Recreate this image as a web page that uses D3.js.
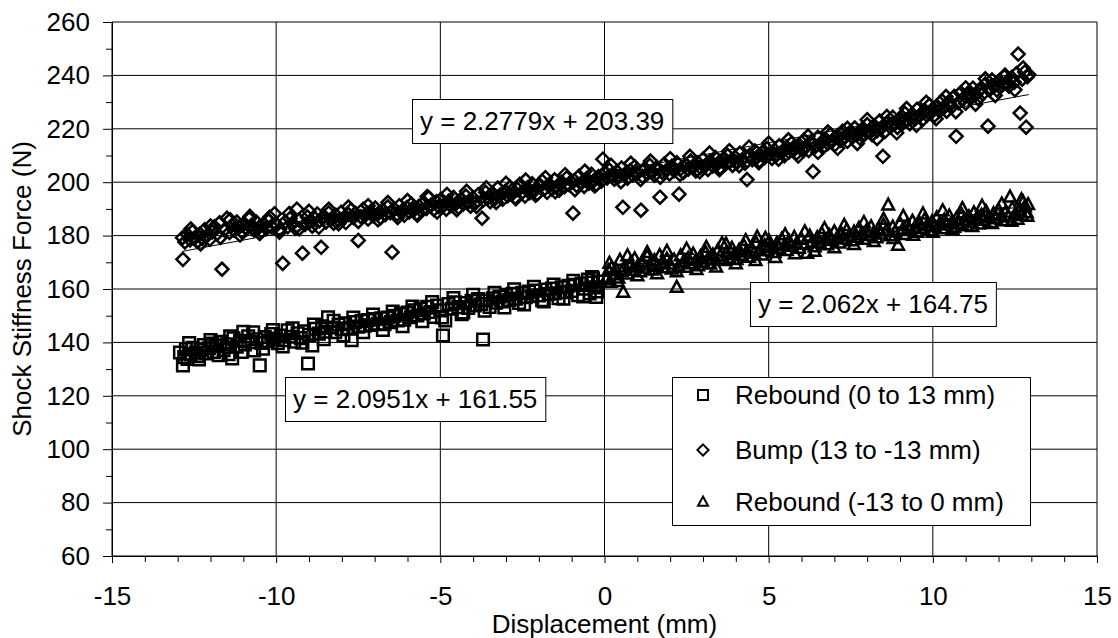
<!DOCTYPE html>
<html>
<head>
<meta charset="utf-8">
<script src="https://cdn.jsdelivr.net/npm/d3@7"></script>
<style>
  body { margin: 0; background: #fff; }
  svg text { font-family: "Liberation Sans", Arial, sans-serif; fill: #000; }
</style>
</head>
<body>
<svg id="chart" width="1118" height="638"></svg>
<script>
// ticks / labels
var xTicks = [-15, -10, -5, 0, 5, 10, 15];
var yTicks = [60, 80, 100, 120, 140, 160, 180, 200, 220, 240, 260];
var xTitle = "Displacement (mm)";
var yTitle = "Shock Stiffness Force (N)";
var seriesNames = ["Rebound (0 to 13 mm)", "Bump (13 to -13 mm)", "Rebound (-13 to 0 mm)"];

// trendline coefficients [slope, intercept] as printed on the chart
var trendRebound1 = [2.0951, 161.55];
var trendBump = [2.2779, 203.39];
var trendRebound2 = [2.062, 164.75];
var trendLabels = ["y = 2.0951x + 161.55", "y = 2.2779x + 203.39", "y = 2.062x + 164.75"];

// Rebound (0 to 13 mm) - squares
var rebound1 = [[-12.93,136.2],[-12.84,131.4],[-12.8,134.5],[-12.75,137.5],[-12.7,133.8],[-12.6,135.5],[-12.55,138],[-12.45,136.2],[-12.4,134.8],[-12.3,137.3],[-12.2,139],[-12.15,135.9],[-12.05,137.8],[-11.95,139.6],[-11.9,136.4],[-11.8,138.7],[-11.7,140.2],[-11.6,137.1],[-11.5,139.3],[-11.45,135.6],[-11.34,134],[-11.3,141.5],[-11.2,138.4],[-11.1,140.6],[-11.0,144],[-10.95,139.2],[-10.85,142.3],[-10.75,140.1],[-10.67,137],[-10.6,141.2],[-10.5,131.4],[-10.45,139.8],[-10.35,142],[-10.25,140.5],[-10.15,143.1],[-10.05,141.4],[-9.95,139.7],[-9.85,142.6],[-9.75,140.8],[-9.65,144.5],[-9.55,142.1],[-9.45,140.3],[-9.35,143.4],[-9.25,141.6],[-9.15,144.2],[-9.03,132.1],[-9.0,142.8],[-8.9,138.9],[-8.8,145.1],[-8.7,143.3],[-8.6,146],[-8.5,144],[-8.42,149.4],[-8.3,145.6],[-8.2,143.8],[-8.1,146.7],[-8.0,144.9],[-7.9,147.2],[-7.8,145.3],[-7.7,140.8],[-7.6,147.6],[-7.5,145.9],[-7.4,148.1],[-7.3,146.3],[-7.2,148.4],[-7.1,146.5],[-7.0,148.7],[-6.9,147],[-6.8,149],[-6.7,146.8],[-6.6,149.3],[-6.5,147.6],[-6.4,150],[-6.3,148.2],[-6.2,150.6],[-6.1,148.5],[-6.0,151.2],[-5.9,149.4],[-5.8,152],[-5.7,150.1],[-5.6,152.6],[-5.5,150.8],[-5.4,153.3],[-5.3,151.4],[-5.2,149.5],[-5.1,153.8],[-5.0,152],[-4.92,142.6],[-4.85,148.2],[-4.75,154.4],[-4.65,152.6],[-4.55,155],[-4.45,153.2],[-4.35,150.6],[-4.25,154.7],[-4.15,152.9],[-4.05,155.6],[-3.95,153.8],[-3.85,156.2],[-3.75,154.4],[-3.7,141.1],[-3.6,155.7],[-3.5,153.3],[-3.4,156.5],[-3.3,154.9],[-3.2,157.1],[-3.1,155.3],[-3.0,157.8],[-2.9,155.9],[-2.8,158.2],[-2.7,156.4],[-2.6,154.8],[-2.5,158.6],[-2.4,156.9],[-2.3,159],[-2.2,157.3],[-2.1,159.4],[-2.0,157.6],[-1.9,155.8],[-1.8,159.8],[-1.7,158.1],[-1.6,160.2],[-1.5,158.4],[-1.4,156.6],[-1.3,160.6],[-1.2,158.8],[-1.1,161.2],[-1.0,159.3],[-0.9,161.6],[-0.8,157.7],[-0.7,162],[-0.6,160.1],[-0.5,163.5],[-0.45,158.3],[-0.4,162.4],[-0.35,164],[-0.3,160.6],[-0.25,157],[-0.2,162.8],
  [-12.65,139.8],[-12.35,133.6],[-12.0,140.9],[-11.75,135.2],[-11.4,142.3],[-11.05,136.4],[-10.7,143.8],[-10.4,137.6],[-10.1,144.6],[-9.8,138.5],[-9.5,145.3],[-9.2,139.9],[-8.85,146.7],[-8.55,141.2],[-8.25,148.1],[-7.95,142.6],[-7.65,149.3],[-7.35,143.8],[-7.05,150.4],[-6.75,144.7],[-6.45,151.6],[-6.15,146.1],[-5.85,153.4],[-5.55,147.9],[-5.25,155.1],[-4.95,149.3],[-4.6,156.6],[-4.3,151.2],[-4.0,157.8],[-3.65,151.9],[-3.35,158.6],[-3.05,153.1],[-2.75,159.9],[-2.45,154.2],[-2.15,160.8],[-1.85,155.3],[-1.55,161.7],[-1.25,156.4],[-0.95,163.1],[-0.65,157.2],[-0.38,164.5],[-0.22,159.1]];

// Bump (13 to -13 mm) - diamonds
var bump = [[-12.85,179.2],[-12.84,171.1],[-12.78,177.6],[-12.7,180.3],[-12.62,178.4],[-12.55,181.5],[-12.48,179.1],[-12.4,177.8],[-12.32,180.6],[-12.25,178.9],[-12.18,182.2],[-12.1,180],[-12.02,178.6],[-11.95,181.4],[-11.88,183.3],[-11.8,180.7],[-11.72,184.8],[-11.65,167.4],[-11.58,182.1],[-11.5,186.5],[-11.42,181.2],[-11.35,183.8],[-11.28,182],[-11.2,185.1],[-11.12,183.2],[-11.05,181.5],[-10.98,184.4],[-10.9,182.6],[-10.82,186.3],[-10.75,183.9],[-10.68,182.1],[-10.6,185],[-10.52,183.1],[-10.45,181.6],[-10.38,184.3],[-10.3,182.7],[-10.22,185.6],[-10.15,183.4],[-10.05,188.2],[-9.98,184.1],[-9.9,182.3],[-9.8,169.6],[-9.72,185.2],[-9.65,183.3],[-9.58,186.4],[-9.5,184.5],[-9.42,182.8],[-9.37,189.9],[-9.3,185.8],[-9.2,173.4],[-9.12,184.2],[-9.05,187],[-8.98,185.2],[-8.9,183.5],[-8.82,186.4],[-8.75,188.1],[-8.68,185.6],[-8.63,175.6],[-8.55,187.3],[-8.48,185.1],[-8.4,188.5],[-8.32,186.2],[-8.25,184.6],[-8.18,187.6],[-8.1,185.8],[-8.02,188.7],[-7.95,186.5],[-7.88,184.9],[-7.8,187.9],[-7.72,189.6],[-7.65,186.8],[-7.58,188.3],[-7.5,178.2],[-7.42,187.1],[-7.35,189.9],[-7.28,187.7],[-7.2,186.2],[-7.12,189],[-7.05,187.4],[-6.98,190.3],[-6.9,188.2],[-6.82,186.7],[-6.75,189.5],[-6.68,187.8],[-6.6,190.8],[-6.52,188.6],[-6.47,173.8],[-6.4,189.9],[-6.32,188],[-6.25,191.2],[-6.18,189.1],[-6.1,187.6],[-6.02,190.5],[-5.95,188.8],[-5.88,191.8],[-5.8,189.6],[-5.72,188.2],[-5.65,191],[-5.58,189.3],[-5.5,192.3],[-5.42,190.2],[-5.35,194.2],[-5.28,191.5],[-5.2,189.8],[-5.12,192.7],[-5.05,190.9],[-4.98,193.6],[-4.9,191.3],[-4.82,189.9],[-4.75,192.9],[-4.68,191.2],[-4.6,194.3],[-4.52,192],[-4.45,190.6],[-4.38,193.5],[-4.3,191.8],[-4.22,194.8],[-4.15,192.6],[-4.08,191],[-4.0,194],[-3.92,192.4],[-3.85,195.3],[-3.73,186.5],[-3.7,193.2],[-3.62,196.2],[-3.55,194.3],[-3.48,192.7],[-3.4,195.7],[-3.32,194],[-3.25,197.8],[-3.18,195.2],[-3.1,193.6],[-3.02,196.6],[-2.95,194.9],[-2.88,198],[-2.8,195.8],[-2.72,194.3],[-2.65,197.3],[-2.58,199.2],[-2.5,196.3],[-2.42,194.8],[-2.35,197.9],[-2.28,196.1],[-2.2,199.4],[-2.12,197],[-2.05,195.6],[-1.98,198.6],[-1.9,200.4],[-1.82,197.6],[-1.75,196.2],[-1.68,199.2],[-1.6,197.5],[-1.52,200.9],[-1.45,198.4],[-1.38,197],[-1.3,200],[-1.22,198.3],[-1.15,201.6],[-1.08,199.1],[-0.96,188.4],[-0.92,200.6],[-0.85,198.8],[-0.78,202.2],[-0.7,199.8],[-0.62,198.4],[-0.55,201.3],[-0.48,199.6],[-0.4,203],[-0.32,200.6],[-0.25,199.1],[-0.18,202.1],[-0.1,200.4],[-0.05,208.6],[0.0,203.5],[0.08,201.6],[0.15,204.5],[0.22,202.7],[0.3,201.1],[0.38,204],[0.45,202.2],[0.52,205.3],[0.56,190.6],[0.62,203],[0.7,201.5],[0.78,204.4],[0.85,202.7],[0.92,205.8],[1.0,203.4],[1.11,189.5],[1.15,202.2],[1.22,205],[1.3,203.2],[1.38,206.3],[1.45,204],[1.52,202.6],[1.6,205.5],[1.69,194.4],[1.75,203.8],[1.82,206.8],[1.9,204.6],[1.98,203.1],[2.05,206],[2.12,204.3],[2.2,207.3],[2.27,195.5],[2.32,205],[2.4,203.6],[2.48,206.6],[2.55,204.9],[2.62,207.9],[2.7,205.6],[2.78,204.2],[2.85,207.2],[2.92,205.5],[3.0,208.6],[3.08,206.3],[3.15,204.8],[3.22,207.8],[3.3,206.1],[3.38,209.2],[3.45,207],[3.52,205.5],[3.6,208.5],[3.68,206.8],[3.75,210],[3.82,207.7],[3.9,206.3],[3.98,209.3],[4.05,207.6],[4.12,210.8],[4.2,208.5],[4.28,207.1],[4.34,201],[4.42,210.1],[4.5,208.4],[4.58,211.7],[4.65,209.4],[4.72,208],[4.8,211.1],[4.88,209.3],[4.95,212.6],[5.02,210.3],[5.1,208.9],[5.18,212],[5.25,210.3],[5.32,213.6],[5.4,211.3],[5.48,209.9],[5.55,213],[5.62,211.3],[5.7,214.6],[5.78,212.3],[5.85,210.9],[5.92,214],[6.0,212.3],[6.08,215.7],[6.15,213.4],[6.22,211.9],[6.3,215.1],[6.35,204],[6.42,213.4],[6.5,216.8],[6.58,214.5],[6.65,213],[6.72,216.2],[6.8,214.5],[6.88,217.9],[6.95,215.6],[7.02,214.1],[7.1,217.4],[7.18,215.6],[7.25,219.1],[7.32,216.8],[7.4,215.3],[7.48,218.6],[7.55,216.8],[7.62,220.3],[7.7,218],[7.78,216.5],[7.85,219.8],[7.92,218],[8.0,221.6],[8.08,219.2],[8.15,217.8],[8.22,221.1],[8.3,219.3],[8.38,222.9],[8.45,220.6],[8.48,209.7],[8.55,219.1],[8.62,222.5],[8.7,220.7],[8.78,224.3],[8.85,222],[8.92,220.5],[9.0,223.9],[9.08,222.1],[9.15,225.8],[9.22,223.4],[9.3,221.9],[9.38,225.4],[9.45,223.6],[9.52,227.3],[9.6,225],[9.68,223.4],[9.75,226.9],[9.82,225.1],[9.9,228.9],[9.98,226.5],[10.05,225],[10.12,228.5],[10.2,226.7],[10.28,230.5],[10.35,228.1],[10.42,226.6],[10.5,230.1],[10.58,228.3],[10.65,232.1],[10.71,217.2],[10.78,229.8],[10.85,233.5],[10.92,231.2],[11.0,229.6],[11.08,233.2],[11.15,231.4],[11.22,235.2],[11.3,232.8],[11.38,231.3],[11.45,234.9],[11.52,233.1],[11.6,236.8],[11.68,221],[11.72,234.5],[11.8,238.3],[11.88,236],[11.95,234.5],[12.02,238],[12.1,236.2],[12.18,239.5],[12.25,237.5],[12.32,235.9],[12.4,239.2],[12.48,237.4],[12.55,240.7],[12.6,248],[12.66,225.9],[12.72,238.6],[12.8,241.3],[12.84,220.6],[12.88,239.5],[12.92,240.3],
  [-12.6,182.5],[-12.3,176.9],[-12.0,183.6],[-11.7,179.3],[-11.4,185.9],[-11.1,180.2],[-10.8,187.2],[-10.5,180.8],[-10.2,186.9],[-9.9,181.3],[-9.6,188.3],[-9.3,182.6],[-9.0,189.1],[-8.7,183.1],[-8.4,189.9],[-8.1,184.4],[-7.8,190.7],[-7.5,185.3],[-7.2,191.2],[-6.9,185.9],[-6.6,192.4],[-6.3,186.8],[-6.0,193.1],[-5.7,187.6],[-5.4,194.6],[-5.1,188.8],[-4.8,195.4],[-4.5,189.7],[-4.2,196.6],[-3.9,190.9],[-3.6,197.9],[-3.3,192.4],[-3.0,199.6],[-2.7,193.8],[-2.4,200.8],[-2.1,195.1],[-1.8,201.7],[-1.5,196.4],[-1.2,202.8],[-0.9,197.2],[-0.6,204.1],[-0.3,198.6],[0.2,206.3],[0.5,200.2],[0.8,207.1],[1.1,201],[1.4,207.9],[1.7,201.9],[2.0,208.8],[2.3,202.9],[2.6,209.7],[2.9,203.9],[3.2,210.9],[3.5,204.7],[3.8,211.8],[4.1,206.2],[4.4,213.1],[4.7,207.3],[5.0,214.6],[5.3,208.6],[5.6,215.9],[5.9,209.8],[6.2,217.3],[6.5,211.2],[6.8,218.8],[7.1,212.7],[7.4,220.2],[7.7,214.5],[8.0,223.4],[8.3,216.4],[8.6,224.6],[8.9,218.5],[9.2,227.6],[9.5,221.3],[9.8,229.9],[10.1,223.8],[10.4,232.1],[10.7,226.4],[11.0,235.3],[11.3,229.2],[11.6,238.7],[11.9,232.5],[12.2,240.1],[12.5,234.6],[12.75,242.8]];

// Rebound (-13 to 0 mm) - triangles
var rebound2 = [[0.05,163.5],[0.08,164.4],[0.12,166.8],[0.18,162.5],[0.22,168],[0.28,165.3],[0.35,167.2],[0.42,164.1],[0.47,170.7],[0.52,166.5],[0.57,158.8],[0.62,168.3],[0.7,165.6],[0.78,169.4],[0.85,167],[0.92,171.3],[1.0,168.2],[1.08,166.4],[1.15,170.1],[1.22,167.8],[1.3,172.2],[1.38,169],[1.45,167.1],[1.52,170.6],[1.6,168.5],[1.68,172.5],[1.75,169.7],[1.82,167.9],[1.9,171.2],[1.98,169.3],[2.05,167.5],[2.12,170.8],[2.2,160.6],[2.25,168.4],[2.32,172.4],[2.4,170],[2.48,168.1],[2.55,171.5],[2.62,169.4],[2.7,173.1],[2.78,170.6],[2.85,168.7],[2.92,172],[3.0,170],[3.08,173.6],[3.15,171.2],[3.22,169.3],[3.3,172.7],[3.38,170.8],[3.45,174.4],[3.52,172.3],[3.58,177],[3.65,170.6],[3.72,173.6],[3.8,171.5],[3.88,175.2],[3.95,172.9],[4.02,171],[4.1,174.5],[4.18,172.6],[4.25,176.1],[4.32,173.8],[4.4,171.9],[4.48,175.3],[4.55,173.4],[4.62,177.2],[4.65,179.4],[4.72,174.5],[4.8,172.7],[4.88,176.2],[4.95,174.3],[5.02,177.8],[5.1,175.4],[5.18,173.6],[5.25,177],[5.32,175.1],[5.4,178.6],[5.48,176.2],[5.55,174.4],[5.62,177.9],[5.7,176],[5.78,179.3],[5.85,177],[5.92,175.2],[6.0,178.6],[6.08,176.7],[6.17,173.4],[6.25,179.8],[6.32,177.5],[6.4,175.8],[6.48,179.2],[6.55,177.3],[6.62,180.7],[6.7,178.3],[6.78,176.5],[6.85,180],[6.92,178.1],[7.0,181.4],[7.08,179.1],[7.15,177.2],[7.22,180.6],[7.3,178.7],[7.38,182.1],[7.45,179.8],[7.52,178],[7.6,181.3],[7.68,179.4],[7.75,182.7],[7.82,180.4],[7.9,178.6],[7.98,181.9],[8.05,180],[8.12,183.3],[8.2,181],[8.28,179.2],[8.35,182.5],[8.42,180.6],[8.5,183.9],[8.58,181.7],[8.64,191.4],[8.7,179.9],[8.78,183.2],[8.85,181.3],[8.94,176.4],[9.0,184.5],[9.08,182.2],[9.15,180.4],[9.22,183.8],[9.3,181.9],[9.38,185.3],[9.45,183],[9.52,181.2],[9.6,184.5],[9.68,182.6],[9.75,186],[9.82,183.7],[9.9,181.9],[9.98,185.2],[10.05,183.3],[10.12,186.6],[10.2,184.3],[10.28,182.5],[10.35,185.8],[10.42,183.9],[10.5,187.3],[10.58,185],[10.65,183.1],[10.72,186.4],[10.8,184.5],[10.88,187.8],[10.95,185.5],[11.02,183.7],[11.1,187],[11.18,185.1],[11.25,188.5],[11.32,186.1],[11.4,184.3],[11.48,187.6],[11.55,185.7],[11.62,189],[11.7,186.7],[11.78,184.9],[11.85,188.2],[11.92,186.3],[12.0,189.6],[12.08,187.3],[12.15,185.5],[12.22,188.8],[12.3,186.9],[12.35,194.4],[12.42,190.2],[12.5,187.9],[12.58,186.1],[12.65,189.4],[12.72,187.5],[12.75,192.5],[12.8,190.8],[12.86,188.5],[12.9,191.6],
  [0.15,169.6],[0.4,162.8],[0.7,172.4],[1.0,164.9],[1.3,173.6],[1.6,165.7],[1.9,174.1],[2.2,166.4],[2.5,174.9],[2.8,167.3],[3.1,175.6],[3.4,168.2],[3.7,176.8],[4.0,169.4],[4.3,178.1],[4.6,170.6],[4.9,179],[5.2,171.8],[5.5,180.3],[5.8,173.2],[6.1,181.4],[6.4,174.1],[6.7,182.6],[7.0,175.4],[7.3,183.8],[7.6,176.6],[7.9,184.9],[8.2,177.8],[8.5,186.1],[8.8,178.9],[9.1,187.2],[9.4,180.1],[9.7,188.1],[10.0,181.2],[10.3,189.3],[10.6,182.3],[10.9,190.1],[11.2,183.4],[11.5,191],[11.8,184.5],[12.1,191.8],[12.4,185.3],[12.7,193.4],[12.88,187.2]];

(function() {
  var svg = d3.select("#chart");
  var plotLeft = 112, plotRight = 1097, plotTop = 22, plotBottom = 556;
  var x = d3.scaleLinear().domain([-15, 15]).range([plotLeft, plotRight]);
  var y = d3.scaleLinear().domain([60, 260]).range([plotBottom, plotTop]);

  var FONT = 26;
  var plain = function(d) { return String(d); }; // hyphen-minus like the original

  // marker shapes
  var shapes = {
    square: function(s) { return "M" + (-s) + "," + (-s) + "H" + s + "V" + s + "H" + (-s) + "Z"; },
    diamond: function(s) { return "M0," + (-s) + "L" + s + ",0L0," + s + "L" + (-s) + ",0Z"; },
    triangle: function(s) { return "M0," + (-s * 1.1) + "L" + s + "," + (s * 0.75) + "L" + (-s) + "," + (s * 0.75) + "Z"; }
  };

  // grid
  var grid = svg.append("g").attr("class", "grid");
  grid.selectAll(".hg").data(yTicks).enter().append("line")
    .attr("x1", plotLeft).attr("x2", plotRight)
    .attr("y1", function(d) { return y(d); }).attr("y2", function(d) { return y(d); })
    .attr("stroke", "#000").attr("stroke-width", 1);
  grid.selectAll(".vg").data(xTicks).enter().append("line")
    .attr("y1", plotTop).attr("y2", plotBottom)
    .attr("x1", function(d) { return x(d); }).attr("x2", function(d) { return x(d); })
    .attr("stroke", "#000").attr("stroke-width", 1);

  // axes - major ticks with labels, minor ticks without
  var yMinor = d3.range(70, 260, 20);
  var xMinor = d3.range(-15, 16, 1).filter(function(d) { return d % 5 !== 0; });

  svg.append("g").attr("transform", "translate(" + plotLeft + ",0)")
    .call(d3.axisLeft(y).tickValues(yTicks).tickFormat(plain).tickSize(9).tickPadding(13));
  svg.append("g").attr("transform", "translate(" + plotLeft + ",0)")
    .call(d3.axisLeft(y).tickValues(yMinor).tickSize(6).tickFormat(""))
    .select(".domain").remove();
  svg.append("g").attr("transform", "translate(0," + plotBottom + ")")
    .call(d3.axisBottom(x).tickValues(xTicks).tickFormat(plain).tickSize(7).tickPadding(24));
  svg.append("g").attr("transform", "translate(0," + plotBottom + ")")
    .call(d3.axisBottom(x).tickValues(xMinor).tickSize(6).tickFormat(""))
    .select(".domain").remove();

  svg.selectAll(".tick text").style("font-size", FONT + "px")
    .style("font-family", "'Liberation Sans', Arial, sans-serif").attr("fill", "#000");
  svg.selectAll(".domain").attr("stroke", "#000");
  svg.selectAll(".tick line").attr("stroke", "#000");

  // axis titles
  svg.append("text").attr("x", (plotLeft + plotRight) / 2).attr("y", 633)
    .attr("text-anchor", "middle").style("font-size", FONT + "px").text(xTitle);
  svg.append("text").attr("transform", "translate(31," + ((plotTop + plotBottom) / 2) + ") rotate(-90)")
    .attr("text-anchor", "middle").style("font-size", FONT + "px").text(yTitle);

  // data series
  var series = [
    { data: rebound1, shape: "square", size: 5.8 },
    { data: bump, shape: "diamond", size: 6.5 },
    { data: rebound2, shape: "triangle", size: 5.9 }
  ];
  series.forEach(function(s) {
    svg.append("g").selectAll("path").data(s.data).enter().append("path")
      .attr("d", shapes[s.shape](s.size))
      .attr("transform", function(d) { return "translate(" + x(d[0]) + "," + y(d[1]) + ")"; })
      .attr("fill", "none").attr("stroke", "#000").attr("stroke-width", 2.5);
  });

  // linear trendlines over each series' x range
  var trends = [[rebound1, trendRebound1], [bump, trendBump], [rebound2, trendRebound2]];
  trends.forEach(function(t) {
    var ext = d3.extent(t[0], function(d) { return d[0]; });
    var line = d3.line().x(function(d) { return x(d); }).y(function(d) { return y(t[1][0] * d + t[1][1]); });
    svg.append("path").attr("d", line(ext)).attr("fill", "none").attr("stroke", "#000").attr("stroke-width", 1);
  });

  // trendline equation boxes: [label index, box left, box top]
  var labelPos = [[0, 285, 377], [1, 412, 99], [2, 750, 282]];
  labelPos.forEach(function(p) {
    var g = svg.append("g");
    var rect = g.append("rect").attr("fill", "#fff").attr("stroke", "#000").attr("stroke-width", 1);
    var txt = g.append("text").attr("x", p[1] + 8).attr("y", p[2] + 31)
      .style("font-size", FONT + "px").text(trendLabels[p[0]]);
    var w = txt.node().getComputedTextLength();
    rect.attr("x", p[1] + 0.5).attr("y", p[2] + 0.5).attr("width", w + 16).attr("height", 44);
  });

  // legend
  var legend = svg.append("g");
  legend.append("rect").attr("x", 672.5).attr("y", 377.5).attr("width", 358).attr("height", 148)
    .attr("fill", "#fff").attr("stroke", "#000").attr("stroke-width", 1);
  var legendRows = [395, 450, 502];
  series.forEach(function(s, i) {
    legend.append("path").attr("d", shapes[s.shape](s.shape === "diamond" ? 5.6 : 5))
      .attr("transform", "translate(703," + legendRows[i] + ")")
      .attr("fill", "none").attr("stroke", "#000").attr("stroke-width", 2);
    legend.append("text").attr("x", 735).attr("y", legendRows[i]).attr("dy", "0.35em")
      .style("font-size", FONT + "px").text(seriesNames[i]);
  });
})();
</script>
</body>
</html>
